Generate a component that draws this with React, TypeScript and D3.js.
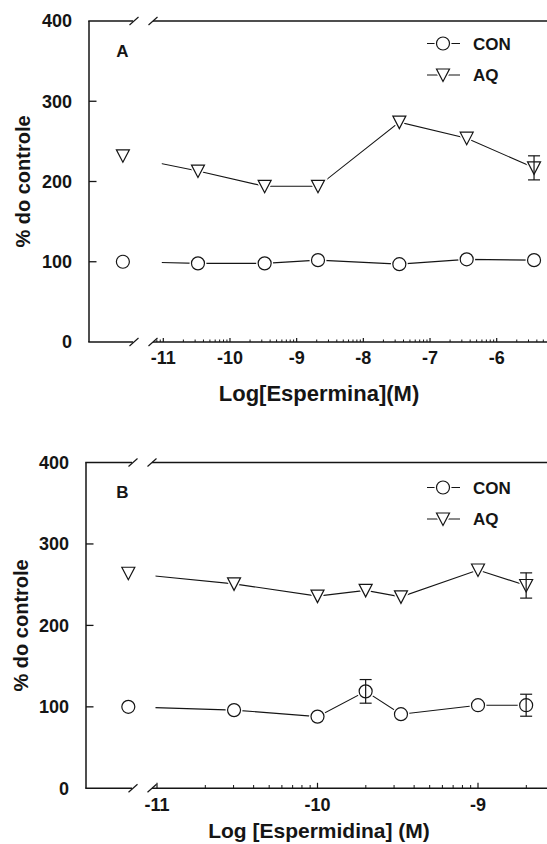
import React from 'react';
import * as d3 from 'd3';

// Painel A: espermina (log M)
const spermineLog = [-10.48, -9.48, -8.68, -7.46, -6.45, -5.44];
const spermineCon = [98, 98, 102, 97, 103, 102];
const spermineConErr = [0, 0, 0, 0, 0, 0];
const spermineAq = [213, 194, 194, 274, 254, 217];
const spermineAqErr = [0, 0, 0, 0, 0, 15];
const spermineTicks = [-11, -10, -9, -8, -7, -6];

// Painel B: espermidina (log M)
const spermidineLog = [-10.52, -10, -9.7, -9.48, -9, -8.7];
const spermidineCon = [96, 88, 119, 91, 102, 102];
const spermidineConErr = [0, 0, 14.5, 0, 0, 13.5];
const spermidineAq = [251, 236, 243, 235, 268, 249];
const spermidineAqErr = [0, 0, 0, 0, 0, 15.5];
const spermidineTicks = [-11, -10, -9];

// controle sem poliamina (A, B), desenhado antes da quebra do eixo
const controlCon = [100, 100];
const controlAq = [232, 264];

const yTicks = [0, 100, 200, 300, 400];
const seriesNames = ['CON', 'AQ'];

const INK = '#151515';
const FONT = '"Liberation Sans", Arial, sans-serif';
const W = 547;

const tri = (x: number, y: number) =>
  `M${x - 6.5},${y - 6}L${x + 6.5},${y - 6}L${x},${y + 6.5}Z`;

type Series = { xs: number[]; ys: number[]; errs: number[]; control: number; kind: 'circle' | 'tri' };

function Symbol({ kind, x, y, halo }: { kind: string; x: number; y: number; halo?: boolean }) {
  const stroke = halo ? '#fff' : INK;
  const sw = halo ? 4 : 1.2;
  return kind === 'circle' ? (
    <circle cx={x} cy={y} r={6.5} fill="#fff" stroke={stroke} strokeWidth={sw} />
  ) : (
    <path d={tri(x, y)} fill="#fff" stroke={stroke} strokeWidth={sw} strokeLinejoin="miter" />
  );
}

function Panel(props: {
  id: string;
  label: string;
  title: string;
  titleSize: number;
  yTop: number;
  yBottom: number;
  axisX: number;
  breakL: number;
  breakR: number;
  controlAt: number;
  xDomain: [number, number];
  xRange: [number, number];
  ticks: number[];
  majorLen: number;
  minorLen: number;
  series: Series[];
  legendY: number[];
  labelY: number;
  yTitleX: number;
  titleY: number;
}) {
  const p = props;
  const y = d3.scaleLinear().domain([0, 400]).range([p.yBottom, p.yTop]);
  const x = d3.scaleLinear().domain(p.xDomain).range(p.xRange);
  const left = d3.scaleLinear().domain([0, 1]).range([p.axisX, p.breakL]);
  const cx = left(p.controlAt);

  // ticks menores logarítmicos
  const minor: number[] = [];
  for (let dec = -13; dec <= -4; dec++) {
    for (let k = 2; k <= 9; k++) {
      const v = dec + Math.log10(k);
      const px = x(v);
      if (px >= p.breakR && px <= W) minor.push(v);
    }
  }
  const major: number[] = d3.range(-13, -3).filter((v) => x(v) >= p.breakR && x(v) <= W);

  const line = d3
    .line<[number, number]>()
    .x((d) => d[0])
    .y((d) => d[1]);

  const slash = (sx: number, sy: number, key: string) => (
    <line key={key} x1={sx - 4.5} y1={sy + 4} x2={sx + 4.5} y2={sy - 4} stroke={INK} strokeWidth={1.2} />
  );

  const yMid = (p.yTop + p.yBottom) / 2;

  return (
    <g>
      <defs>
        <clipPath id={`clip-${p.id}`}>
          <rect x={x(-11) - 1.5} y={p.yTop - 20} width={W} height={p.yBottom - p.yTop + 40} />
        </clipPath>
      </defs>

      {/* moldura */}
      <g stroke={INK} strokeWidth={1.5} fill="none">
        <line x1={p.axisX} y1={p.yTop} x2={p.axisX} y2={p.yBottom} />
        <line x1={p.axisX - 0.75} y1={p.yBottom} x2={p.breakL} y2={p.yBottom} />
        <line x1={p.breakR} y1={p.yBottom} x2={W} y2={p.yBottom} />
        <line x1={p.axisX - 0.75} y1={p.yTop} x2={p.breakL} y2={p.yTop} />
        <line x1={p.breakR} y1={p.yTop} x2={W} y2={p.yTop} />
      </g>
      {slash(p.breakL + 1, p.yBottom, 'b1')}
      {slash(p.breakR, p.yBottom, 'b2')}
      {slash(p.breakL + 1, p.yTop, 't1')}
      {slash(p.breakR, p.yTop, 't2')}

      {/* eixo y */}
      {yTicks.map((t) => (
        <g key={`y${t}`}>
          {t > 0 && t < 400 && (
            <line x1={p.axisX} x2={p.axisX + 7.5} y1={y(t)} y2={y(t)} stroke={INK} strokeWidth={1.3} />
          )}
          <text
            x={p.axisX - 17}
            y={y(t)}
            dy="0.36em"
            textAnchor="end"
            fontFamily={FONT}
            fontWeight="bold"
            fontSize={18}
            fill={INK}
          >
            {t}
          </text>
        </g>
      ))}
      <text
        transform={`translate(${p.yTitleX},${yMid}) rotate(-90)`}
        textAnchor="middle"
        fontFamily={FONT}
        fontWeight="bold"
        fontSize={20}
        fill={INK}
      >
        % do controle
      </text>

      {/* eixo x */}
      {minor.map((v, i) => (
        <line key={`m${i}`} x1={x(v)} x2={x(v)} y1={p.yBottom} y2={p.yBottom - p.minorLen} stroke={INK} strokeWidth={1} />
      ))}
      {major.map((v) => (
        <line key={`M${v}`} x1={x(v)} x2={x(v)} y1={p.yBottom} y2={p.yBottom - p.majorLen} stroke={INK} strokeWidth={1.2} />
      ))}
      {p.ticks.map((t) => (
        <text
          key={`xt${t}`}
          x={x(t)}
          y={p.yBottom + 16}
          dy="0.36em"
          textAnchor="middle"
          fontFamily={FONT}
          fontWeight="bold"
          fontSize={18}
          fill={INK}
        >
          {String(t)}
        </text>
      ))}
      <text x={319} y={p.titleY} textAnchor="middle" fontFamily={FONT} fontWeight="bold" fontSize={p.titleSize} fill={INK}>
        {p.title}
      </text>

      {/* letra do painel */}
      <text x={122.5} y={p.labelY} textAnchor="middle" fontFamily={FONT} fontWeight="bold" fontSize={17} fill={INK}>
        {p.label}
      </text>

      {/* séries */}
      {p.series.map((s, si) => {
        const pts: [number, number][] = [[cx, y(s.control)], ...s.xs.map((v, i) => [x(v), y(s.ys[i])] as [number, number])];
        return (
          <g key={`s${si}`}>
            <path d={line(pts) || ''} fill="none" stroke={INK} strokeWidth={1.1} clipPath={`url(#clip-${p.id})`} />
            {pts.map((d, i) => (
              <Symbol key={`h${i}`} kind={s.kind} x={d[0]} y={d[1]} halo />
            ))}
            {pts.map((d, i) => (
              <Symbol key={`p${i}`} kind={s.kind} x={d[0]} y={d[1]} />
            ))}
            {s.xs.map((v, i) =>
              s.errs[i] > 0 ? (
                <g key={`e${i}`} stroke={INK} strokeWidth={1.2}>
                  <line x1={x(v)} x2={x(v)} y1={y(s.ys[i] - s.errs[i])} y2={y(s.ys[i] + s.errs[i])} />
                  <line x1={x(v) - 6} x2={x(v) + 6} y1={y(s.ys[i] - s.errs[i])} y2={y(s.ys[i] - s.errs[i])} />
                  <line x1={x(v) - 6} x2={x(v) + 6} y1={y(s.ys[i] + s.errs[i])} y2={y(s.ys[i] + s.errs[i])} />
                </g>
              ) : null
            )}
          </g>
        );
      })}

      {/* legenda */}
      {seriesNames.map((name, i) => (
        <g key={name}>
          <line x1={427} x2={460} y1={p.legendY[i]} y2={p.legendY[i]} stroke={INK} strokeWidth={1.1} />
          <Symbol kind={i === 0 ? 'circle' : 'tri'} x={443} y={p.legendY[i]} halo />
          <Symbol kind={i === 0 ? 'circle' : 'tri'} x={443} y={p.legendY[i]} />
          <text x={473} y={p.legendY[i]} dy="0.36em" fontFamily={FONT} fontWeight="bold" fontSize={17} fill={INK}>
            {name}
          </text>
        </g>
      ))}
    </g>
  );
}

export default function App() {
  return (
    <div style={{ position: 'absolute', left: 0, top: 0, width: W, height: 844, background: '#fff' }}>
      <svg width={W} height={844} style={{ display: 'block' }}>
        <rect width={W} height={844} fill="#fff" />
        <Panel
          id="a"
          label="A"
          title="Log[Espermina](M)"
          titleSize={22}
          yTop={21}
          yBottom={342}
          axisX={89}
          breakL={133}
          breakR={153}
          controlAt={0.77}
          xDomain={[-11, -6]}
          xRange={[163.3, 496.7]}
          ticks={spermineTicks}
          majorLen={4}
          minorLen={2.5}
          series={[
            { xs: spermineLog, ys: spermineCon, errs: spermineConErr, control: controlCon[0], kind: 'circle' },
            { xs: spermineLog, ys: spermineAq, errs: spermineAqErr, control: controlAq[0], kind: 'tri' },
          ]}
          legendY={[43.5, 75]}
          labelY={57}
          yTitleX={30}
          titleY={401}
        />
        <Panel
          id="b"
          label="B"
          title="Log [Espermidina] (M)"
          titleSize={21}
          yTop={462.5}
          yBottom={788.3}
          axisX={86}
          breakL={132}
          breakR={152}
          controlAt={0.92}
          xDomain={[-11, -9]}
          xRange={[157, 478]}
          ticks={spermidineTicks}
          majorLen={5.5}
          minorLen={3.3}
          series={[
            { xs: spermidineLog, ys: spermidineCon, errs: spermidineConErr, control: controlCon[1], kind: 'circle' },
            { xs: spermidineLog, ys: spermidineAq, errs: spermidineAqErr, control: controlAq[1], kind: 'tri' },
          ]}
          legendY={[487.5, 519]}
          labelY={498}
          yTitleX={28}
          titleY={838}
        />
      </svg>
    </div>
  );
}
